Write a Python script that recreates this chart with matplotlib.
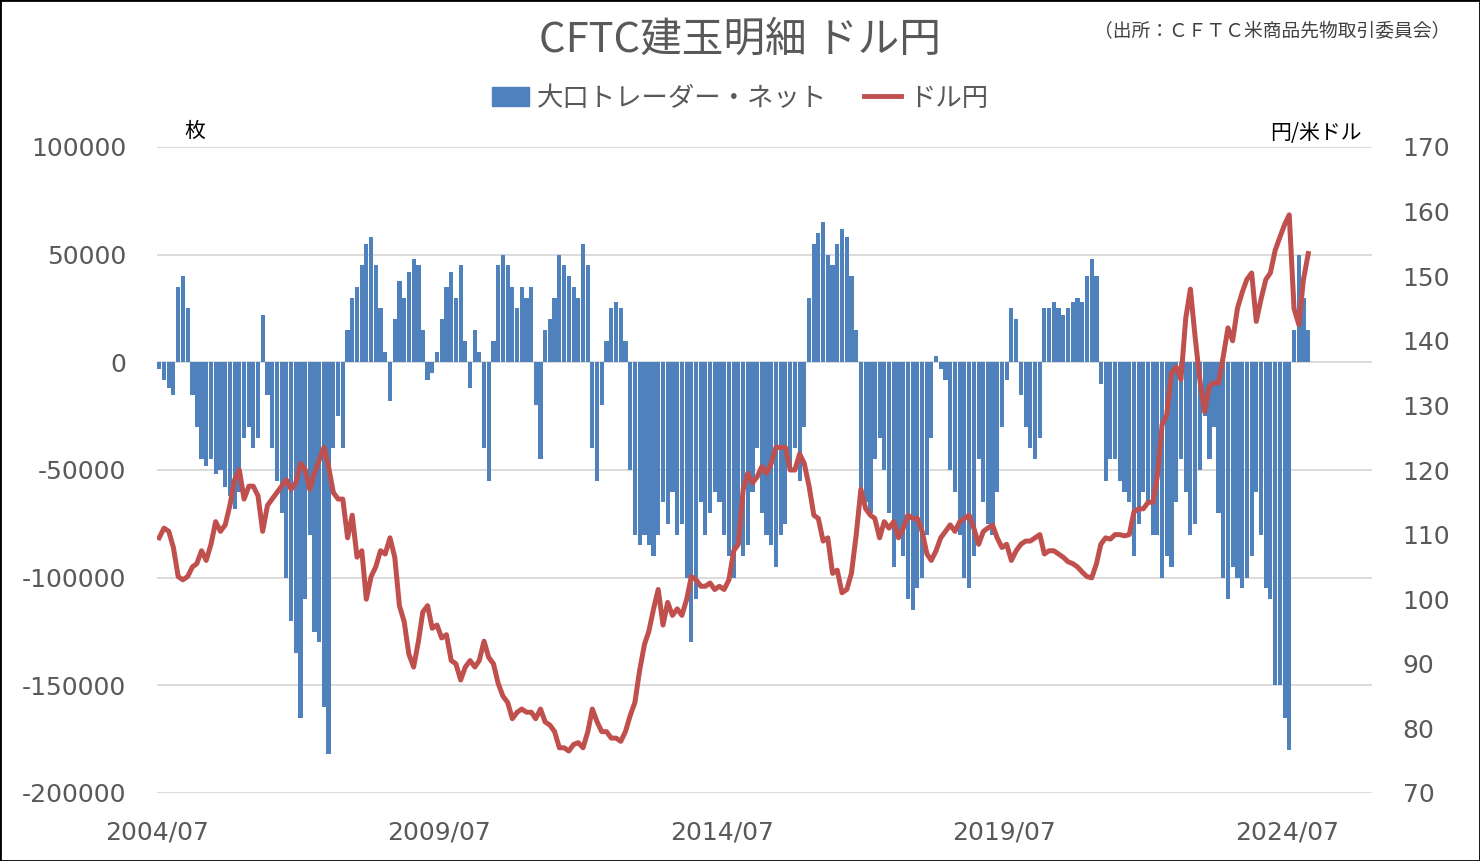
import matplotlib.pyplot as plt
import matplotlib.dates as mdates
import pandas as pd
from matplotlib.patches import Rectangle, Patch
from matplotlib.lines import Line2D

plt.rcParams['axes.unicode_minus'] = False

# monthly data, 2004/07 - 2024/11
months = pd.date_range('2004-07-01', '2024-11-01', freq='MS')

# 大口トレーダー・ネット (枚)
net_position = [
    # 2004 (Jul-Dec)
    -3000, -8000, -12000, -15000, 35000, 40000,
    # 2005
    25000, -15000, -30000, -45000, -48000, -45000, -52000, -50000, -58000, -62000, -68000, -60000,
    # 2006
    -35000, -30000, -40000, -35000, 22000, -15000, -40000, -55000, -70000, -100000, -120000, -135000,
    # 2007
    -165000, -110000, -80000, -125000, -130000, -160000, -182000, -40000, -25000, -40000, 15000, 30000,
    # 2008
    35000, 45000, 55000, 58000, 45000, 25000, 5000, -18000, 20000, 38000, 30000, 42000,
    # 2009
    48000, 45000, 15000, -8000, -5000, 5000, 20000, 35000, 42000, 30000, 45000, 10000,
    # 2010
    -12000, 15000, 5000, -40000, -55000, 10000, 45000, 50000, 45000, 35000, 25000, 35000,
    # 2011
    30000, 35000, -20000, -45000, 15000, 20000, 30000, 50000, 45000, 40000, 35000, 30000,
    # 2012
    55000, 45000, -40000, -55000, -20000, 10000, 25000, 28000, 25000, 10000, -50000, -80000,
    # 2013
    -85000, -80000, -85000, -90000, -80000, -65000, -75000, -60000, -80000, -75000, -100000, -130000,
    # 2014
    -110000, -65000, -80000, -70000, -60000, -65000, -80000, -90000, -100000, -85000, -90000, -85000,
    # 2015
    -60000, -40000, -70000, -80000, -85000, -95000, -80000, -75000, -50000, -40000, -55000, -30000,
    # 2016
    30000, 55000, 60000, 65000, 50000, 45000, 55000, 62000, 58000, 40000, 15000, -60000,
    # 2017
    -65000, -70000, -45000, -35000, -50000, -70000, -95000, -80000, -90000, -110000, -115000, -105000,
    # 2018
    -100000, -80000, -35000, 3000, -3000, -8000, -50000, -60000, -80000, -100000, -105000, -90000,
    # 2019
    -45000, -65000, -75000, -80000, -60000, -30000, -8000, 25000, 20000, -15000, -30000, -40000,
    # 2020
    -45000, -35000, 25000, 25000, 28000, 25000, 22000, 25000, 28000, 30000, 28000, 40000,
    # 2021
    48000, 40000, -10000, -55000, -45000, -45000, -55000, -60000, -65000, -90000, -75000, -60000,
    # 2022
    -65000, -80000, -80000, -100000, -90000, -95000, -65000, -45000, -60000, -80000, -75000, -50000,
    # 2023
    -25000, -45000, -30000, -70000, -100000, -110000, -95000, -100000, -105000, -100000, -90000, -60000,
    # 2024 (Jan-Nov)
    -80000, -105000, -110000, -150000, -150000, -165000, -180000, 15000, 50000, 30000, 15000,
]

# ドル円 (円/米ドル)
usdjpy = [
    # 2004 (Jul-Dec)
    109.5, 111.0, 110.5, 108.0, 103.5, 103.0,
    # 2005
    103.5, 105.0, 105.5, 107.5, 106.0, 108.5, 112.0, 110.5, 111.5, 114.5, 118.5, 120.0,
    # 2006
    115.5, 117.5, 117.5, 116.0, 110.5, 114.5, 115.5, 116.5, 117.5, 118.5, 117.0, 118.0,
    # 2007
    121.0, 120.0, 117.0, 119.5, 121.5, 123.5, 120.5, 116.5, 115.5, 115.5, 109.5, 113.0,
    # 2008
    106.5, 107.5, 100.0, 103.5, 105.0, 107.5, 107.0, 109.5, 106.5, 99.0, 96.5, 91.5,
    # 2009
    89.5, 93.5, 98.0, 99.0, 95.5, 96.0, 94.0, 94.5, 90.5, 90.0, 87.5, 89.5,
    # 2010
    90.5, 89.5, 90.5, 93.5, 91.0, 90.0, 87.0, 85.0, 84.0, 81.5, 82.5, 83.0,
    # 2011
    82.5, 82.5, 81.5, 83.0, 81.0, 80.5, 79.5, 77.0, 77.0, 76.5, 77.5, 77.8,
    # 2012
    77.0, 79.5, 83.0, 81.0, 79.5, 79.5, 78.5, 78.5, 78.0, 79.5, 82.0, 84.0,
    # 2013
    89.0, 93.0, 95.0, 98.5, 101.5, 96.0, 99.5, 97.5, 98.5, 97.5, 100.0, 103.5,
    # 2014
    103.0, 102.0, 102.0, 102.5, 101.5, 102.0, 101.5, 103.0, 107.5, 108.5, 117.0, 119.5,
    # 2015
    118.0, 119.0, 120.5, 119.5, 121.0, 123.5, 123.5, 123.5, 120.0, 120.0, 122.5, 121.0,
    # 2016
    117.5, 113.0, 112.5, 109.0, 109.5, 104.0, 104.5, 101.0, 101.5, 104.0, 110.0, 117.0,
    # 2017
    114.0, 113.0, 112.5, 109.5, 112.0, 111.0, 112.0, 109.5, 111.0, 113.0, 112.5, 112.5,
    # 2018
    110.5, 107.0, 106.0, 107.5, 109.5, 110.5, 111.5, 110.5, 112.0, 112.5, 113.0, 111.0,
    # 2019
    108.5, 110.5, 111.0, 111.5, 109.5, 108.0, 108.5, 106.0, 107.5, 108.5, 109.0, 109.0,
    # 2020
    109.5, 110.0, 107.0, 107.5, 107.5, 107.0, 106.5, 105.8, 105.5, 105.0, 104.2, 103.5,
    # 2021
    103.3, 105.5, 108.5, 109.5, 109.3, 110.0, 110.0, 109.8, 110.0, 113.5, 114.0, 114.0,
    # 2022
    115.0, 115.0, 119.0, 127.0, 128.5, 135.0, 136.0, 134.0, 143.5, 148.0, 140.5, 134.0,
    # 2023
    129.0, 133.0, 133.5, 133.5, 137.5, 142.0, 140.0, 145.0, 147.5, 149.5, 150.5, 143.0,
    # 2024 (Jan-Nov)
    146.5, 149.5, 150.5, 154.0, 156.0, 158.0, 159.5, 145.0, 142.5, 149.5, 153.5,
]

tick_dates = pd.to_datetime(['2004-07-01', '2009-07-01', '2014-07-01', '2019-07-01', '2024-07-01'])
tick_labels = ['2004/07', '2009/07', '2014/07', '2019/07', '2024/07']

jp = ['Noto Sans CJK JP', 'DejaVu Sans']
grey = '#595959'

fig = plt.figure(figsize=(14.8, 8.61), dpi=100)
ax = fig.add_axes([157 / 1480, 1 - 793 / 861, 1215 / 1480, 646 / 861])

x = months + pd.Timedelta(days=14)
ax.bar(x, net_position, width=27, color='#4F81BD', zorder=2)
ax.set_ylim(-200000, 100000)
ax.set_yticks(range(-200000, 100001, 50000))
ax.grid(axis='y', color='#D9D9D9', linewidth=1.3)
ax.set_axisbelow(True)
ax.set_xlim(pd.Timestamp('2004-07-01'), pd.Timestamp('2026-01-01'))
ax.set_xticks(tick_dates)
ax.set_xticklabels(tick_labels)
ax.tick_params(length=0, labelsize=18, labelcolor=grey)
ax.tick_params(axis='y', pad=22)
ax.tick_params(axis='x', pad=20)
for s in ax.spines.values():
    s.set_visible(False)

ax2 = ax.twinx()
ax2.plot(x, usdjpy, color='#C0504D', linewidth=3.6, solid_joinstyle='round')
ax2.set_ylim(70, 170)
ax2.set_yticks(range(70, 171, 10))
ax2.tick_params(length=0, labelsize=18, labelcolor=grey, pad=22)
for s in ax2.spines.values():
    s.set_visible(False)

fig.text(0.5, 1 - 40 / 861, 'CFTC建玉明細 ドル円', ha='center', va='center',
         fontsize=30, color=grey, family=jp)
fig.text(1450 / 1480, 1 - 32 / 861, '（出所：ＣＦＴＣ米商品先物取引委員会）', ha='right', va='center',
         fontsize=13.5, color='#404040', family=jp)
fig.text(195 / 1480, 1 - 131 / 861, '枚', ha='center', va='center', fontsize=15, color='black', family=jp)
fig.text(1362 / 1480, 1 - 133 / 861, '円/米ドル', ha='right', va='center', fontsize=15, color='black', family=jp)

handles = [Patch(color='#4F81BD'), Line2D([], [], color='#C0504D', linewidth=3.5)]
fig.legend(handles, ['大口トレーダー・ネット', 'ドル円'], loc='center', bbox_to_anchor=(0.5, 1 - 98 / 861),
           ncol=2, frameon=False, handlelength=1.4, handletextpad=0.3, columnspacing=1.4,
           prop={'family': jp, 'size': 19}, labelcolor=grey)

fig.add_artist(Rectangle((0, 0), 1, 1, transform=fig.transFigure, fill=False, edgecolor='black', linewidth=2))

fig.savefig('out.png', dpi=100)
